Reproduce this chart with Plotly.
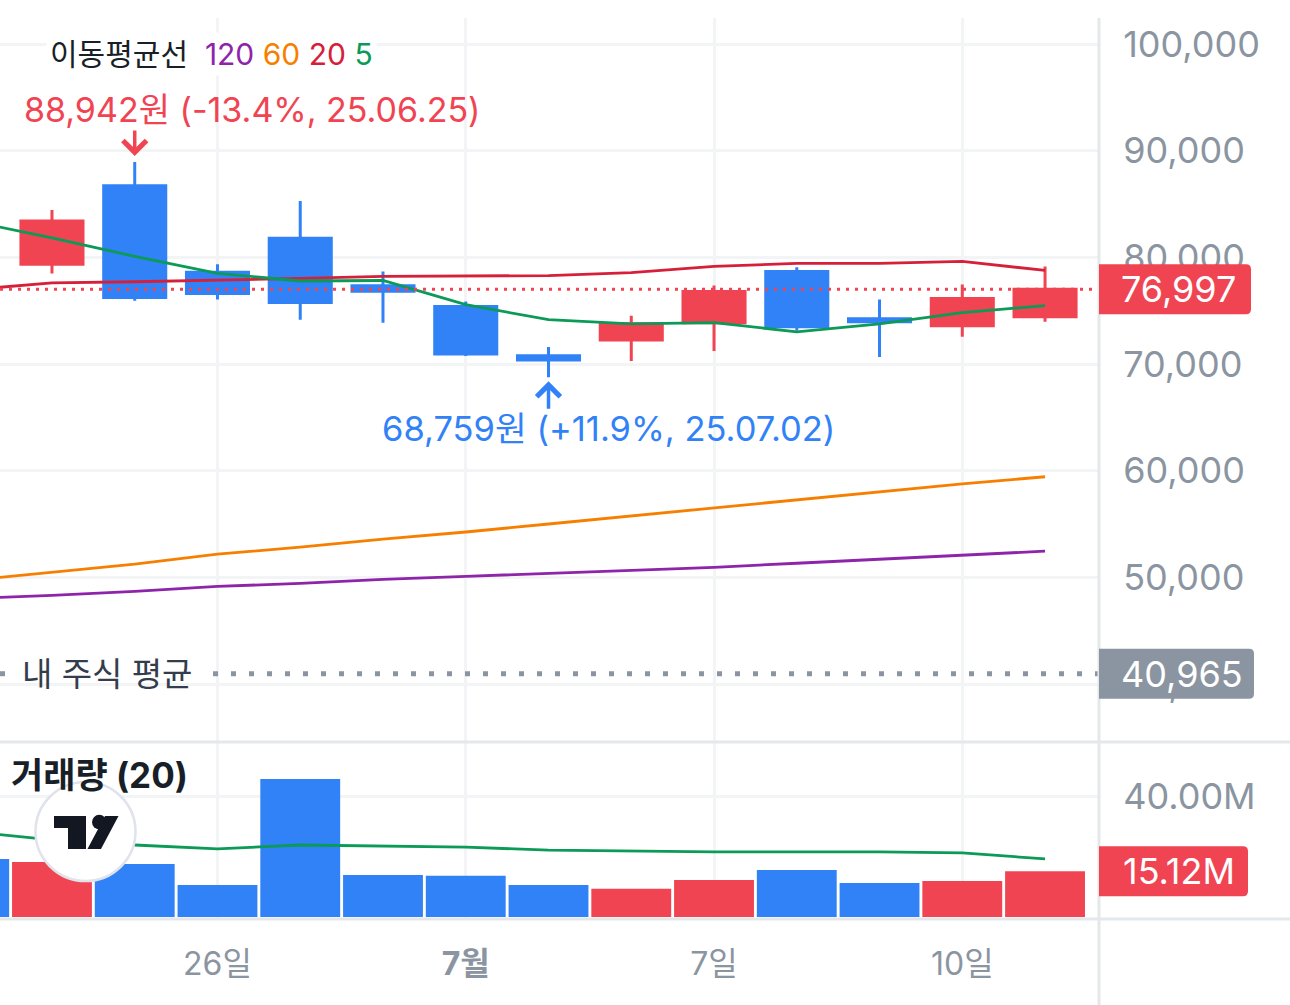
import plotly.graph_objects as go

# 일봉 25.06.23 ~ 25.07.11 (06.23은 화면 왼쪽 끝에서 잘림)
dates = ["2025-06-23", "2025-06-24", "2025-06-25", "2025-06-26", "2025-06-27", "2025-06-30",
         "2025-07-01", "2025-07-02", "2025-07-03", "2025-07-07", "2025-07-08", "2025-07-09",
         "2025-07-10", "2025-07-11"]

candle_dates = dates[1:]
opens = [79340, 86700, 78590, 81790, 77330, 75380, 70780, 72260, 73870, 78680, 74250, 73590, 74430]
highs = [84430, 88942, 79340, 85280, 78680, 75850, 71600, 74530, 77360, 79060, 76040, 77450, 79150]
lows = [78490, 75940, 76040, 74150, 73870, 70760, 68759, 70280, 71230, 73110, 70660, 72550, 73960]
closes = [83400, 76230, 76600, 75760, 76820, 70940, 70380, 73770, 76790, 73490, 73960, 76130, 76997]
first_day_up = False  # 06.23 캔들 방향 (거래량 색)

# 이동평균선
ma5 = [83430, 81820, 80090, 78490, 77780, 77830, 75570, 74150, 73770, 73870, 73020, 73770, 74810, 75470]
ma20 = [76950, 77610, 77710, 77830, 78020, 78210, 78240, 78290, 78570, 79150, 79430, 79430, 79620, 78770]
ma60 = [49720, 50470, 51230, 52170, 52830, 53590, 54250, 55000, 55760, 56510, 57260, 58020, 58770, 59430]
ma120 = [48020, 48300, 48680, 49150, 49430, 49810, 50090, 50380, 50660, 50940, 51320, 51700, 52080, 52450]

# 거래량 (백만 주)
volume = [19.2, 18.2, 17.5, 10.6, 45.6, 13.9, 13.6, 10.6, 9.3, 12.2, 15.5, 11.2, 11.9, 15.12]
volume_ma20 = [28.3, 25.5, 23.8, 22.5, 23.8, 23.5, 23.1, 22.1, 21.8, 21.5, 21.5, 21.5, 21.2, 19.2]

tick_dates = ["2025-06-26", "2025-07-01", "2025-07-07", "2025-07-10"]
tick_text = ["26일", "<b>7월</b>", "7일", "10일"]
price_ticks = [40000, 50000, 60000, 70000, 80000, 90000, 100000]
volume_ticks = [40]

last_price = closes[-1]
my_avg_price = 40965
high_date, high_price = "2025-06-25", 88942
low_date, low_price = "2025-07-02", 68759

RED = "#f04452"
BLUE = "#3182f6"
GRAY = "#8b95a1"
GRID = "#f2f4f6"
LINE = "#e5e8eb"
DARK = "#191f28"
C120, C60, C20, C5 = "#8e24aa", "#f77f00", "#d6203a", "#0b9a57"
FONT = "Inter, 'Noto Sans CJK KR', sans-serif"

W, H = 1290, 1005


def px(x):
    return x / W


def py(y):
    return 1 - y / H


fig = go.Figure()
for vals, col in [(ma120, C120), (ma60, C60), (ma20, C20), (ma5, C5)]:
    fig.add_trace(go.Scatter(x=dates, y=vals, mode="lines", line=dict(color=col, width=2.8),
                             hoverinfo="skip"))

fig.add_trace(go.Candlestick(
    x=candle_dates, open=opens, high=highs, low=lows, close=closes,
    increasing=dict(line=dict(color=RED, width=3), fillcolor=RED),
    decreasing=dict(line=dict(color=BLUE, width=3), fillcolor=BLUE),
    whiskerwidth=0, hoverinfo="skip"))

vol_colors = [RED if first_day_up else BLUE] + [RED if c >= o else BLUE for o, c in zip(opens, closes)]
fig.add_trace(go.Bar(x=dates, y=volume, marker=dict(color=vol_colors, line=dict(width=0)),
                     xaxis="x2", yaxis="y2", hoverinfo="skip"))
fig.add_trace(go.Scatter(x=dates, y=volume_ma20, mode="lines", line=dict(color=C5, width=2.8),
                         xaxis="x2", yaxis="y2", hoverinfo="skip"))

x_end = px(1099)
common_x = dict(type="category", categoryorder="array", categoryarray=dates,
                range=[0.372, 13.652], domain=[0, x_end], tickvals=tick_dates,
                showgrid=True, gridcolor=GRID, gridwidth=2.5, zeroline=False, showline=False,
                fixedrange=True)
fig.update_layout(
    width=W, height=H, margin=dict(l=0, r=0, t=0, b=0),
    paper_bgcolor="white", plot_bgcolor="white", showlegend=False,
    boxgap=0.25, boxgroupgap=0, bargap=0.035, hovermode=False,
    font=dict(family=FONT, color=GRAY),
    xaxis=dict(common_x, anchor="y", showticklabels=False, rangeslider=dict(visible=False)),
    xaxis2=dict(common_x, anchor="y2", matches="x", ticktext=tick_text,
                tickfont=dict(size=32, color=GRAY), ticks="outside", ticklen=18,
                tickcolor="rgba(0,0,0,0)"),
    yaxis=dict(domain=[py(742), py(18)], range=[34563, 102437], side="right", anchor="x",
               tickvals=price_ticks, tickformat=",", tickfont=dict(size=36, color=GRAY),
               ticks="outside", ticklen=16, tickcolor="rgba(0,0,0,0)",
               showgrid=True, gridcolor=GRID, gridwidth=2.5, zeroline=False, fixedrange=True),
    yaxis2=dict(domain=[py(918), py(742)], range=[-0.33, 57.85], side="right", anchor="x2",
                tickvals=volume_ticks, ticktext=[f"{v:.2f}M" for v in volume_ticks],
                tickfont=dict(size=36, color=GRAY),
                ticks="outside", ticklen=16, tickcolor="rgba(0,0,0,0)",
                showgrid=True, gridcolor=GRID, gridwidth=2.5, zeroline=False, fixedrange=True),
)

shapes = []
# 현재가 점선
shapes.append(dict(type="line", xref="paper", yref="y", x0=0, x1=x_end, y0=last_price, y1=last_price,
                   line=dict(color=RED, width=3, dash="3px,6px")))
# 내 주식 평균 점선 (라벨 부분은 비움)
for a, b in [(0, 10), (213, 1099)]:
    shapes.append(dict(type="line", xref="paper", yref="y", x0=px(a), x1=px(b),
                       y0=my_avg_price, y1=my_avg_price,
                       line=dict(color=GRAY, width=5, dash="5px,13px")))
# 구분선
shapes.append(dict(type="line", xref="paper", yref="paper", x0=0, x1=1, y0=py(742), y1=py(742),
                   line=dict(color=LINE, width=3)))
shapes.append(dict(type="line", xref="paper", yref="paper", x0=0, x1=1, y0=py(919), y1=py(919),
                   line=dict(color=LINE, width=3)))
shapes.append(dict(type="line", xref="paper", yref="paper", x0=x_end, x1=x_end, y0=0, y1=py(18),
                   line=dict(color=LINE, width=3)))


def badge(yref, value, right, color):
    x0, x1, r = x_end, px(right), px(5)
    path = (f"M{x0},-25 L{x1 - r},-25 Q{x1},-25 {x1},-20 L{x1},20 "
            f"Q{x1},25 {x1 - r},25 L{x0},25 Z")
    return dict(type="path", xref="paper", yref=yref, ysizemode="pixel", yanchor=value,
                path=path, fillcolor=color, line=dict(width=0), layer="above")


shapes.append(badge("y", last_price, 1251, RED))
shapes.append(badge("y", my_avg_price, 1254, GRAY))
shapes.append(badge("y2", volume[-1], 1248, RED))

# 트레이딩뷰 로고
shapes.append(dict(type="circle", xref="paper", yref="paper", x0=px(35.5), x1=px(135.5),
                   y0=py(881), y1=py(782), fillcolor="white", line=dict(color="#e0e3eb", width=2.5)))
LOGO = "#131722"
shapes.append(dict(type="rect", xref="paper", yref="paper", x0=px(54), x1=px(86), y0=py(828), y1=py(816),
                   fillcolor=LOGO, line=dict(width=0)))
shapes.append(dict(type="rect", xref="paper", yref="paper", x0=px(68), x1=px(86), y0=py(849), y1=py(816),
                   fillcolor=LOGO, line=dict(width=0)))
shapes.append(dict(type="circle", xref="paper", yref="paper", x0=px(92), x1=px(106.5), y0=py(829.3),
                   y1=py(814.8), fillcolor=LOGO, line=dict(width=0)))
shapes.append(dict(type="path", xref="paper", yref="paper",
                   path=f"M{px(105)},{py(816)} L{px(118.5)},{py(816)} L{px(101)},{py(849)} "
                        f"L{px(87.5)},{py(849)} Z",
                   fillcolor=LOGO, line=dict(width=0)))
fig.update_layout(shapes=shapes)

legend_text = ("이동평균선\u00a0\u00a0"
               f"<span style='color:{C120}'>120</span> "
               f"<span style='color:{C60}'>60</span> "
               f"<span style='color:{C20}'>20</span> "
               f"<span style='color:{C5}'>5</span>")
annotations = [
    dict(xref="paper", yref="paper", x=px(46), y=py(54), xanchor="left", yanchor="middle",
         text=legend_text, showarrow=False, bgcolor="white", borderpad=3,
         font=dict(size=30, color=DARK, family=FONT)),
    dict(xref="paper", yref="paper", x=px(22), y=py(110), xanchor="left", yanchor="middle",
         text=f"{high_price:,}원 (-13.4%, 25.06.25)", showarrow=False,
         font=dict(size=34, color=RED, family=FONT)),
    dict(x=dates.index(high_date), y=high_price, xref="x", yref="y", text="", showarrow=True,
         ax=0, ay=-33, arrowhead=4, arrowsize=1.3, arrowwidth=3.5, arrowcolor=RED, standoff=6),
    dict(xref="paper", yref="paper", x=px(380), y=py(428), xanchor="left", yanchor="middle",
         text=f"{low_price:,}원 (+11.9%, 25.07.02)", showarrow=False,
         font=dict(size=34.5, color=BLUE, family=FONT)),
    dict(x=dates.index(low_date), y=low_price, xref="x", yref="y", text="", showarrow=True,
         ax=0, ay=33, arrowhead=4, arrowsize=1.3, arrowwidth=3.5, arrowcolor=BLUE, standoff=4),
    dict(xref="paper", yref="y", x=px(20), y=my_avg_price, xanchor="left", yanchor="middle",
         text="내 주식 평균", showarrow=False, font=dict(size=33, color="#333d4b", family=FONT)),
    dict(xref="paper", yref="paper", x=px(9), y=py(775), xanchor="left", yanchor="middle",
         text="<b>거래량 (20)</b>", showarrow=False, font=dict(size=35, color=DARK, family=FONT)),
    dict(xref="paper", yref="y", x=px(1119), y=last_price, xanchor="left", yanchor="middle",
         text=f"{last_price:,}", showarrow=False, font=dict(size=36, color="white", family=FONT)),
    dict(xref="paper", yref="y", x=px(1119), y=my_avg_price, xanchor="left", yanchor="middle",
         text=f"{my_avg_price:,}", showarrow=False, font=dict(size=36, color="white", family=FONT)),
    dict(xref="paper", yref="y2", x=px(1121), y=volume[-1], xanchor="left", yanchor="middle",
         text=f"{volume[-1]:.2f}M", showarrow=False, font=dict(size=36, color="white", family=FONT)),
]
fig.update_layout(annotations=annotations)

fig.write_html("out.html", config={"displayModeBar": False},
               post_script="document.body.style.margin='0';")
